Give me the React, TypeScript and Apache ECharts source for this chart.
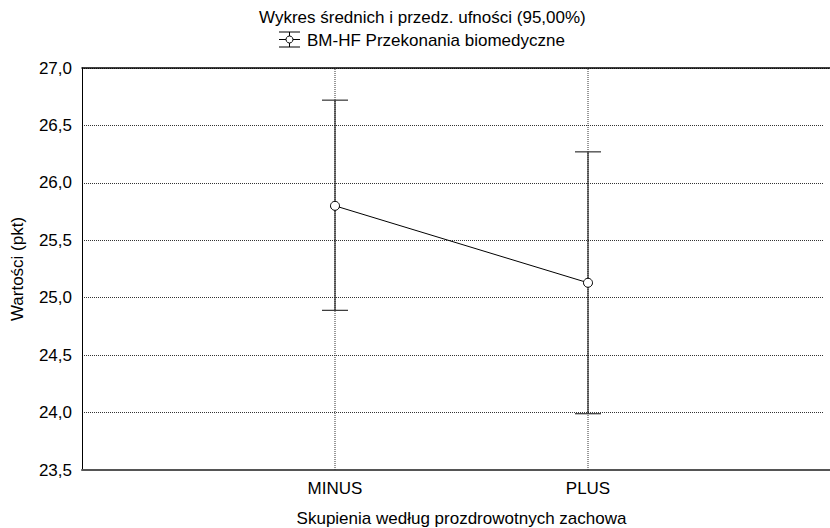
import React, { useEffect, useRef } from "react";
import * as echarts from "echarts";

const categories = ["MINUS", "PLUS"];
const means = [25.8, 25.13];
const lowerCI = [24.89, 23.99];
const upperCI = [26.72, 26.27];
const yMin = 23.5;
const yMax = 27.0;
const yStep = 0.5;

const titleText = "Wykres średnich i przedz. ufności (95,00%)";
const legendText = "BM-HF Przekonania biomedyczne";
const xAxisName = "Skupienia według prozdrowotnych zachowa";
const yAxisName = "Wartości (pkt)";

const FONT = "'Liberation Sans', Arial, sans-serif";
const FS = 17;

export default function App() {
  const ref = useRef<HTMLDivElement>(null);

  useEffect(() => {
    if (!ref.current) return;
    const chart = echarts.init(ref.current, undefined, { renderer: "svg" });

    const meanData = categories.map((_, i) => [i + 1, means[i]]);
    const ciData = categories.map((_, i) => [i + 1, lowerCI[i], upperCI[i]]);
    const catLineData = categories.map((_, i) => [i + 1, yMin, yMax]);

    const option: any = {
      animation: false,
      backgroundColor: "#fff",
      textStyle: { fontFamily: FONT },
      grid: {
        left: 82,
        width: 759,
        top: 68,
        bottom: 58,
        outerBoundsMode: "none",
        containLabel: false,
        show: false,
      },
      xAxis: [
        {
          type: "value",
          min: 0,
          max: 3,
          interval: 1,
          name: xAxisName,
          nameLocation: "middle",
          nameGap: 40,
          nameTextStyle: { fontSize: FS, color: "#000", fontFamily: FONT },
          axisLine: { show: true, lineStyle: { color: "#555", width: 2 } },
          axisTick: { show: false },
          axisLabel: {
            fontSize: FS,
            color: "#000",
            fontFamily: FONT,
            margin: 10,
            formatter: (v: number) => categories[v - 1] ?? "",
          },
          splitLine: { show: false },
        },
        {
          type: "value",
          position: "top",
          min: 0,
          max: 3,
          interval: 1,
          axisLine: { show: true, onZero: false, lineStyle: { color: "#000", width: 1.5 } },
          axisTick: { show: false },
          axisLabel: { show: false },
          splitLine: { show: false },
        },
      ],
      yAxis: {
        type: "value",
        min: yMin,
        max: yMax,
        interval: yStep,
        name: yAxisName,
        nameLocation: "middle",
        nameGap: 56,
        nameTextStyle: { fontSize: FS, color: "#000", fontFamily: FONT },
        axisLine: { show: true, lineStyle: { color: "#000", width: 1 } },
        axisTick: { show: false },
        axisLabel: {
          fontSize: FS,
          color: "#000",
          fontFamily: FONT,
          margin: 10,
          formatter: (v: number) => v.toFixed(1).replace(".", ","),
        },
        splitLine: {
          show: true,
          lineStyle: { type: "dotted", color: "#333", width: 1 },
        },
      },
      graphic: [
        {
          type: "rect",
          z: 100,
          silent: true,
          shape: { x: 823, y: 69.5, width: 8, height: 399 },
          style: { fill: "#fff" },
        },
        {
          type: "text",
          left: 259,
          top: 9,
          style: {
            text: titleText,
            font: `${FS}px ${FONT}`,
            fill: "#000",
          },
        },
        {
          type: "group",
          children: [
            { type: "line", shape: { x1: 279, y1: 32, x2: 300, y2: 32 }, style: { stroke: "#000", lineWidth: 1 } },
            { type: "line", shape: { x1: 279, y1: 47, x2: 300, y2: 47 }, style: { stroke: "#000", lineWidth: 1 } },
            { type: "line", shape: { x1: 279, y1: 39.5, x2: 300, y2: 39.5 }, style: { stroke: "#000", lineWidth: 1 } },
            { type: "line", shape: { x1: 289.5, y1: 32, x2: 289.5, y2: 47 }, style: { stroke: "#000", lineWidth: 1 } },
            { type: "circle", shape: { cx: 289.5, cy: 39.5, r: 3.5 }, style: { fill: "#fff", stroke: "#000", lineWidth: 1 } },
          ],
        },
        {
          type: "text",
          left: 307,
          top: 32,
          style: {
            text: legendText,
            font: `${FS}px ${FONT}`,
            fill: "#000",
          },
        },
      ],
      series: [
        {
          type: "custom",
          name: "catLines",
          data: catLineData,
          encode: { x: 0, y: [1, 2] },
          z: 1,
          silent: true,
          renderItem: (params: any, api: any) => {
            const x = api.value(0);
            const a = api.coord([x, api.value(1)]);
            const b = api.coord([x, api.value(2)]);
            return {
              type: "line",
              shape: { x1: a[0], y1: a[1], x2: b[0], y2: b[1] },
              style: { stroke: "#333", lineWidth: 1, lineDash: [1, 1] },
            };
          },
        },
        {
          type: "custom",
          name: "CI",
          data: ciData,
          encode: { x: 0, y: [1, 2] },
          z: 2,
          renderItem: (params: any, api: any) => {
            const x = api.value(0);
            const lo = api.coord([x, api.value(1)]);
            const hi = api.coord([x, api.value(2)]);
            const w = 13;
            return {
              type: "group",
              children: [
                { type: "line", shape: { x1: lo[0], y1: lo[1], x2: hi[0], y2: hi[1] }, style: { stroke: "#000", lineWidth: 1 } },
                { type: "line", shape: { x1: lo[0] - w, y1: lo[1], x2: lo[0] + w, y2: lo[1] }, style: { stroke: "#333", lineWidth: 1.2 } },
                { type: "line", shape: { x1: hi[0] - w, y1: hi[1], x2: hi[0] + w, y2: hi[1] }, style: { stroke: "#333", lineWidth: 1.2 } },
              ],
            };
          },
        },
        {
          type: "line",
          name: legendText,
          data: meanData,
          z: 3,
          symbol: "circle",
          symbolSize: 9,
          itemStyle: { color: "#fff", borderColor: "#000", borderWidth: 1 },
          lineStyle: { color: "#000", width: 1 },
        },
      ],
    };

    chart.setOption(option);
    return () => chart.dispose();
  }, []);

  return (
    <div
      style={{
        position: "absolute",
        left: 0,
        top: 0,
        width: 830,
        height: 528,
        overflow: "hidden",
        background: "#fff",
      }}
    >
      <div ref={ref} style={{ width: 830, height: 528, overflow: "hidden" }} />
    </div>
  );
}
